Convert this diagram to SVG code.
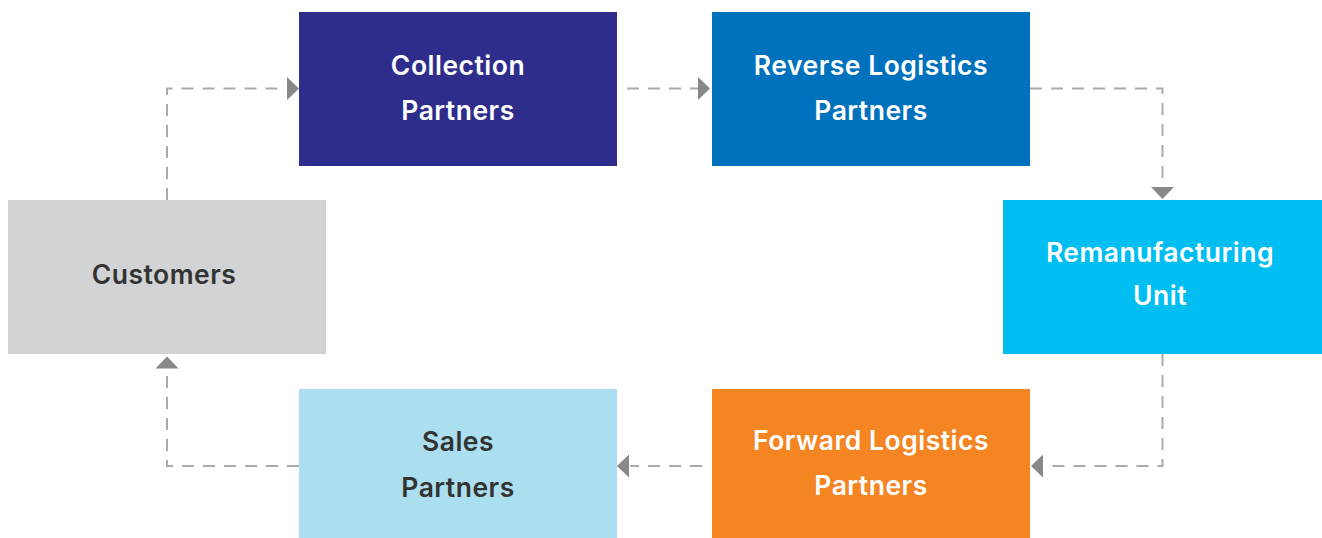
<svg xmlns="http://www.w3.org/2000/svg" width="1322" height="538" viewBox="0 0 1322 538">
  <defs>
    <style>
      .box { stroke: none; }
      .label { font-family: Inter, "Open Sans", "Liberation Sans", sans-serif; font-size: 26.5px; font-weight: 600; letter-spacing: 0.5px; text-anchor: middle; }
      .light { fill: #ffffff; }
      .dark { fill: #333333; }
      .flow { fill: none; stroke: #aaaaaa; stroke-width: 2; stroke-dasharray: 12 9; }
      .head { fill: #888888; }
    </style>
  </defs>
  <rect width="1322" height="538" fill="#ffffff"/>

  <!-- dashed flow loop -->
  <g id="connectors">
    <path class="flow" d="M167 200 V88.5 H286"/>
    <polygon class="head" points="299,88.5 287,77 287,100"/>
    <path class="flow" d="M627 88.5 H698"/>
    <polygon class="head" points="710,88.5 698,77 698,100"/>
    <path class="flow" d="M1030 88.5 H1162.5 V187"/>
    <polygon class="head" points="1162.5,199 1151,187 1174,187"/>
    <path class="flow" d="M1162.5 354 V466 H1044"/>
    <polygon class="head" points="1031,466 1043,454.5 1043,477.5"/>
    <path class="flow" d="M702 466 H630"/>
    <polygon class="head" points="617,466 629,454.5 629,477.5"/>
    <path class="flow" d="M299 466 H167 V369"/>
    <polygon class="head" points="167,356.5 155.5,368.5 178.5,368.5"/>
  </g>

  <g id="collection-partners">
    <rect class="box" x="299" y="12" width="318" height="154" fill="#2e2d8b"/>
    <text class="label light" x="458" y="74.5">Collection</text>
    <text class="label light" x="458" y="120">Partners</text>
  </g>

  <g id="reverse-logistics-partners">
    <rect class="box" x="712" y="12" width="318" height="154" fill="#0071bc"/>
    <text class="label light" x="871" y="74.5">Reverse Logistics</text>
    <text class="label light" x="871" y="120">Partners</text>
  </g>

  <g id="remanufacturing-unit">
    <rect class="box" x="1003" y="200" width="319" height="154" fill="#00bdf2"/>
    <text class="label light" x="1160" y="261.5">Remanufacturing</text>
    <text class="label light" x="1160" y="305">Unit</text>
  </g>

  <g id="forward-logistics-partners">
    <rect class="box" x="712" y="389" width="318" height="149" fill="#f48522"/>
    <text class="label light" x="871" y="449.5">Forward Logistics</text>
    <text class="label light" x="871" y="495">Partners</text>
  </g>

  <g id="sales-partners">
    <rect class="box" x="299" y="389" width="318" height="149" fill="#abdeee"/>
    <text class="label dark" x="458" y="451">Sales</text>
    <text class="label dark" x="458" y="497">Partners</text>
  </g>

  <g id="customers">
    <rect class="box" x="8" y="200" width="318" height="154" fill="#d1d3d4"/>
    <text class="label dark" x="164" y="284">Customers</text>
  </g>
</svg>
